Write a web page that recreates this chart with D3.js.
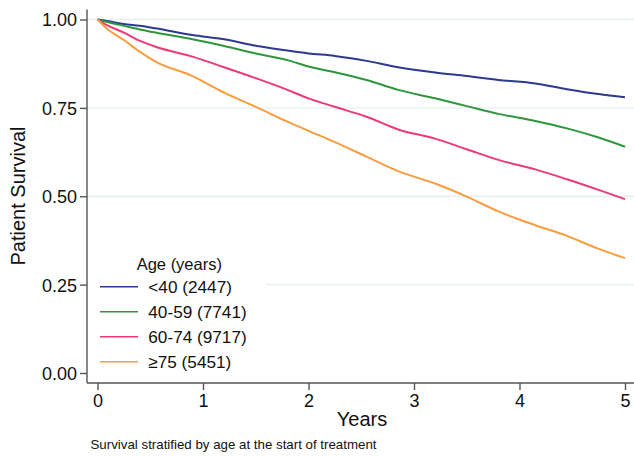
<!DOCTYPE html>
<html>
<head>
<meta charset="utf-8">
<script src="https://cdn.jsdelivr.net/npm/d3@7"></script>
<style>
    body { margin: 0; background: #fff; }
    svg { display: block; font-family: "Liberation Sans", Arial, sans-serif; }
</style>
</head>
<body>
<svg id="chart" width="634" height="456"></svg>
<script>
// follow-up time in years
let years = [0, 0.09, 0.25, 0.4, 0.55, 0.9, 1.2, 1.5, 1.8, 2.0, 2.25, 2.55, 2.85, 3.2, 3.5, 3.8, 4.15, 4.45, 4.75, 5.0];

let under40 = [1, 0.996, 0.987, 0.982, 0.975, 0.956, 0.944, 0.926, 0.912, 0.904, 0.897, 0.883, 0.865, 0.850, 0.840, 0.829, 0.819, 0.803, 0.789, 0.780];
let age40to59 = [1, 0.993, 0.982, 0.972, 0.963, 0.944, 0.925, 0.904, 0.885, 0.867, 0.851, 0.829, 0.801, 0.777, 0.755, 0.733, 0.713, 0.692, 0.666, 0.640];
let age60to74 = [1, 0.984, 0.963, 0.940, 0.923, 0.895, 0.865, 0.834, 0.801, 0.777, 0.753, 0.725, 0.689, 0.663, 0.633, 0.603, 0.576, 0.548, 0.518, 0.492];
let age75plus = [1, 0.974, 0.942, 0.909, 0.881, 0.840, 0.793, 0.753, 0.711, 0.685, 0.653, 0.612, 0.571, 0.536, 0.499, 0.457, 0.418, 0.388, 0.351, 0.325];

let groupLabels = ["<40 (2447)", "40-59 (7741)", "60-74 (9717)", "\u226575 (5451)"];
let groupColors = ["#2b3990", "#2e963c", "#ec3a78", "#f99d40"];

let yTicks = [0, 0.25, 0.5, 0.75, 1];
let xTicks = [0, 1, 2, 3, 4, 5];

let series = [under40, age40to59, age60to74, age75plus];

let svg = d3.select("#chart");
let axisColor = "#555";

let xScale = d3.scaleLinear().domain([0, 5]).range([97.5, 625]);
let yScale = d3.scaleLinear().domain([0, 1]).range([373, 19.5]);

// gridlines
svg.append("g")
    .selectAll("line")
    .data(yTicks.filter(function (d) { return d > 0; }))
    .enter()
    .append("line")
    .attr("x1", 87)
    .attr("x2", 634)
    .attr("y1", function (d) { return yScale(d); })
    .attr("y2", function (d) { return yScale(d); })
    .attr("stroke", "#e6eff1")
    .attr("stroke-width", 1.3);

// survival curves
let line = d3.line()
    .x(function (d, i) { return xScale(years[i]); })
    .y(function (d) { return yScale(d); })
    .curve(d3.curveMonotoneX);

svg.append("g")
    .selectAll("path")
    .data(series)
    .enter()
    .append("path")
    .attr("d", line)
    .attr("fill", "none")
    .attr("stroke", function (d, i) { return groupColors[i]; })
    .attr("stroke-width", 2)
    .attr("stroke-linejoin", "round");

// y axis
let yAxis = d3.axisLeft(yScale)
    .tickValues(yTicks)
    .tickFormat(d3.format(".2f"))
    .tickSize(7)
    .tickPadding(3);
let yAxisG = svg.append("g")
    .attr("transform", "translate(87,0)")
    .call(yAxis);
yAxisG.select(".domain").attr("d", "M0,9.5V383");

// x axis
let xAxis = d3.axisBottom(xScale)
    .tickValues(xTicks)
    .tickFormat(d3.format("d"))
    .tickSize(7)
    .tickPadding(4);
let xAxisG = svg.append("g")
    .attr("transform", "translate(0,383)")
    .call(xAxis);
xAxisG.select(".domain").attr("d", "M87,0H634");

svg.selectAll(".domain, .tick line")
    .attr("stroke", axisColor)
    .attr("stroke-width", 1.4);
svg.selectAll(".tick text")
    .attr("fill", "#111")
    .style("font-family", "'Liberation Sans', Arial, sans-serif")
    .style("font-size", "18px");
yAxisG.selectAll(".tick text").attr("dy", "0.36em");

// axis titles
svg.append("text")
    .attr("x", 362)
    .attr("y", 426)
    .attr("text-anchor", "middle")
    .attr("font-size", 20)
    .attr("fill", "#111")
    .text("Years");

svg.append("text")
    .attr("transform", "translate(25,196) rotate(-90)")
    .attr("text-anchor", "middle")
    .attr("font-size", 20)
    .attr("fill", "#111")
    .text("Patient Survival");

// note
svg.append("text")
    .attr("x", 90.5)
    .attr("y", 449)
    .attr("font-size", 13.3)
    .attr("fill", "#111")
    .text("Survival stratified by age at the start of treatment");

// legend
let legend = svg.append("g");
legend.append("rect")
    .attr("x", 88)
    .attr("y", 250)
    .attr("width", 178)
    .attr("height", 126)
    .attr("fill", "#fff");

legend.append("text")
    .attr("x", 136.7)
    .attr("y", 270)
    .attr("font-size", 16.5)
    .attr("fill", "#111")
    .text("Age (years)");

let items = legend.selectAll(".item")
    .data(groupLabels)
    .enter()
    .append("g")
    .attr("class", "item")
    .attr("transform", function (d, i) { return "translate(0," + (286.7 + i * 25) + ")"; });

items.append("line")
    .attr("x1", 100)
    .attr("x2", 138)
    .attr("stroke", function (d, i) { return groupColors[i]; })
    .attr("stroke-width", 1.5);

items.append("text")
    .attr("x", 148.3)
    .attr("y", 6)
    .attr("font-size", 17.2)
    .attr("fill", "#111")
    .text(function (d) { return d; });
</script>
</body>
</html>
